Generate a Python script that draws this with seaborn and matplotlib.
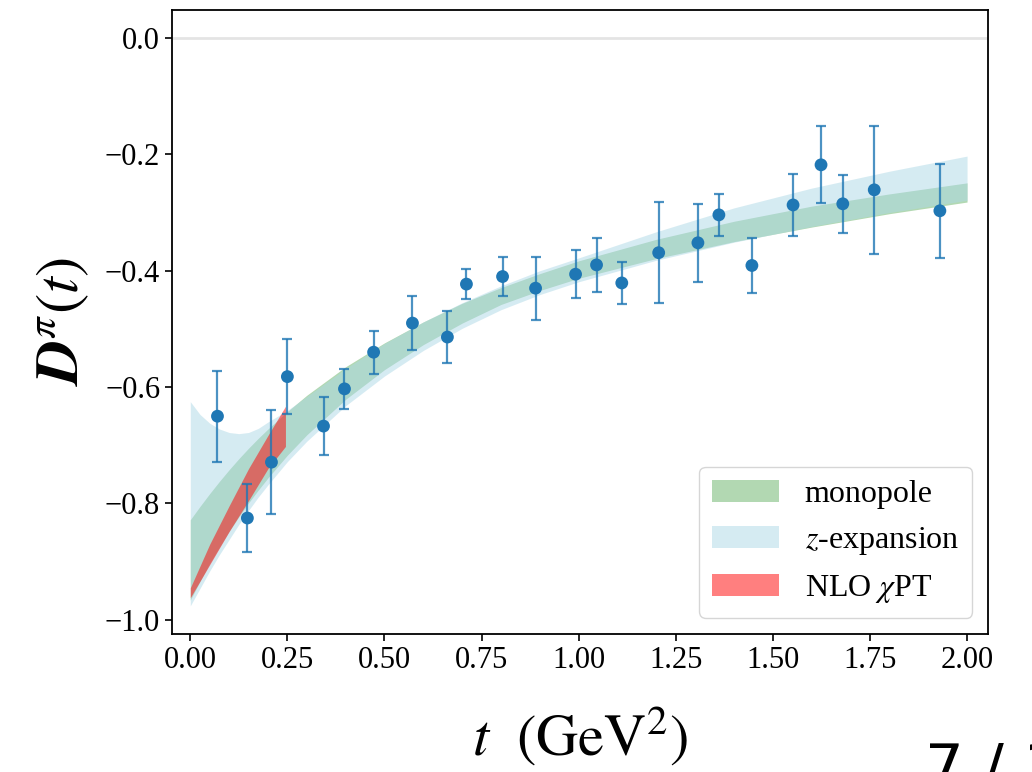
import matplotlib
matplotlib.use('Agg')
import matplotlib.pyplot as plt
import seaborn as sns

# lattice data points D^pi(t)
t_data = [0.070, 0.147, 0.209, 0.250, 0.343, 0.397, 0.472, 0.572, 0.662, 0.711, 0.804, 0.889,
          0.992, 1.046, 1.111, 1.206, 1.307, 1.361, 1.446, 1.552, 1.624, 1.680, 1.761, 1.930]
d_data = [-0.650, -0.825, -0.729, -0.582, -0.667, -0.603, -0.540, -0.490, -0.514, -0.423, -0.410, -0.430,
          -0.406, -0.390, -0.421, -0.369, -0.352, -0.304, -0.391, -0.287, -0.218, -0.285, -0.261, -0.297]
d_err = [0.078, 0.058, 0.089, 0.065, 0.050, 0.034, 0.037, 0.047, 0.045, 0.026, 0.034, 0.054,
         0.041, 0.047, 0.036, 0.087, 0.067, 0.036, 0.048, 0.054, 0.066, 0.050, 0.110, 0.081]

# fit bands
t_band = [0.0, 0.025, 0.05, 0.075, 0.1, 0.125, 0.15, 0.175, 0.2, 0.25, 0.3, 0.4, 0.5, 0.6, 0.7,
          0.8, 0.9, 1.0, 1.2, 1.4, 1.6, 1.8, 2.0]
mono_upper = [-0.828, -0.805, -0.783, -0.762, -0.742, -0.723, -0.705, -0.688, -0.672, -0.642,
              -0.614, -0.565, -0.524, -0.488, -0.456, -0.429, -0.405, -0.383, -0.346, -0.315,
              -0.289, -0.268, -0.249]
mono_lower = [-0.966, -0.934, -0.903, -0.875, -0.848, -0.823, -0.799, -0.777, -0.756, -0.717,
              -0.682, -0.621, -0.570, -0.527, -0.490, -0.458, -0.434, -0.413, -0.379, -0.350,
              -0.325, -0.302, -0.282]
zexp_upper = [-0.625, -0.647, -0.662, -0.672, -0.678, -0.680, -0.678, -0.671, -0.660, -0.640,
              -0.616, -0.568, -0.525, -0.488, -0.455, -0.426, -0.400, -0.378, -0.333, -0.292,
              -0.258, -0.229, -0.203]
zexp_lower = [-0.976, -0.946, -0.916, -0.888, -0.862, -0.836, -0.812, -0.789, -0.768, -0.728,
              -0.693, -0.632, -0.581, -0.537, -0.499, -0.467, -0.441, -0.419, -0.382, -0.351,
              -0.324, -0.300, -0.279]

t_chpt = [0.0, 0.05, 0.1, 0.15, 0.2, 0.245]
chpt_upper = [-0.945, -0.870, -0.804, -0.740, -0.683, -0.633]
chpt_lower = [-0.962, -0.905, -0.848, -0.795, -0.740, -0.702]

sns.set_style('ticks')
plt.rcParams['font.family'] = ['Liberation Serif', 'DejaVu Serif']
plt.rcParams['mathtext.fontset'] = 'stix'
for key in ['text.color', 'axes.labelcolor', 'xtick.color', 'ytick.color']:
    plt.rcParams[key] = 'black'

fig = plt.figure(figsize=(10.32, 7.72), dpi=100)
ax = fig.add_axes([0.1667, 0.179, 0.7907, 0.808])

ax.axhline(0, color='lightgray', lw=2, alpha=0.6, zorder=0)
ax.fill_between(t_band, mono_lower, mono_upper, color='green', alpha=0.3, lw=0, label='monopole')
ax.fill_between(t_band, zexp_lower, zexp_upper, color='lightblue', alpha=0.5, lw=0,
                label=r'$z$-expansion')
ax.fill_between(t_chpt, chpt_lower, chpt_upper, color='red', alpha=0.5, lw=0,
                label=r'NLO $\chi$PT')

ax.errorbar(t_data, d_data, yerr=d_err, fmt='none', ecolor='#1f77b4', elinewidth=1.6,
            capsize=3.5, capthick=1.6, alpha=0.8)
sns.scatterplot(x=t_data, y=d_data, color='#1f77b4', s=85, edgecolor='none', ax=ax, zorder=5)

ax.set_xlim(-0.047, 2.054)
ax.set_ylim(-1.024, 0.048)
ax.set_xticks([0, 0.25, 0.5, 0.75, 1.0, 1.25, 1.5, 1.75, 2.0])
ax.set_xticklabels(['0.00', '0.25', '0.50', '0.75', '1.00', '1.25', '1.50', '1.75', '2.00'])
ax.set_yticks([0.0, -0.2, -0.4, -0.6, -0.8, -1.0])
ax.tick_params(labelsize=22, width=1.2, length=5, color='black')
for s in ax.spines.values():
    s.set_linewidth(1.3)
    s.set_color('black')

ax.set_xlabel(r'$t\ \ (\mathrm{GeV}^2)$', fontsize=42, labelpad=22)
ax.set_ylabel(r'$\boldsymbol{D}^{\pi}(t)$', fontsize=44, labelpad=10)

ax.legend(loc='lower right', fontsize=23, handlelength=2.1, frameon=True)

# page number fragment from the slide, cut by the lower edge as in the source
fig.text(0.896, -0.02, '7 / 1', fontsize=44, family='DejaVu Sans')

fig.savefig('out.png', dpi=100)
